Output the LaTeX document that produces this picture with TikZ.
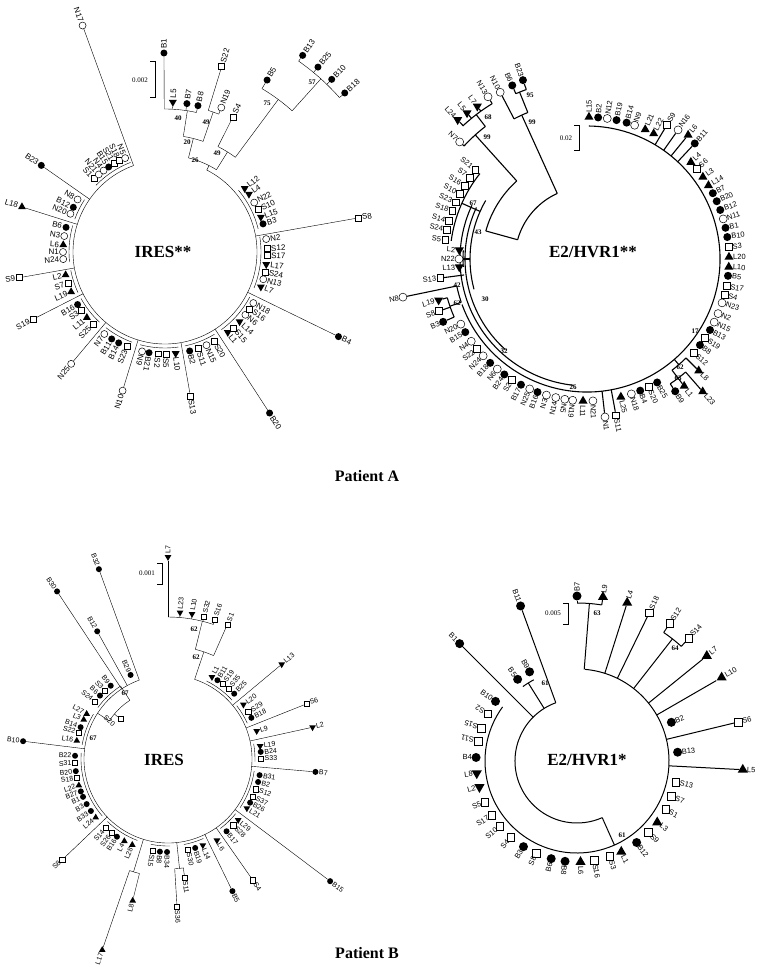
\documentclass[tikz,border=0pt]{standalone}
\usepackage{fontspec}
\setmainfont{Liberation Serif}
\setsansfont{Liberation Sans}
\usetikzlibrary{shapes.geometric}

% leaf symbol + rotated label, placed by angle and radius round the tree centre
\newcommand{\tip}[5]{%
  \node[#4] (#1) at (#2:#3) {};
  \ifdim #2pt<95pt
    \node[tag, anchor=west, rotate=#2] at ({#2}:{#3+\tagsep}) {#5};
  \else
    \node[tag, anchor=east, rotate=#2-180] at ({#2}:{#3+\tagsep}) {#5};
  \fi}
% same, label always turned outwards (upside down on the left)
\newcommand{\tipout}[5]{%
  \node[#4] (#1) at (#2:#3) {};
  \node[tag, anchor=west, rotate=#2] at ({#2}:{#3+\tagsep}) {#5};}
% leaf on its own branch, starting at radius #6
\newcommand{\longtip}[6]{%
  \coordinate (#1b) at (#2:#6);
  \tip{#1}{#2}{#3}{#4}{#5}
  \draw[branch] (#1b) -- (#1);}
\newcommand{\bow}[3]{\draw[branch] (#1:#3) arc[start angle=#1, end angle=#2, radius=#3];}
\newcommand{\spoke}[3]{\draw[branch] (#1:#2) -- (#1:#3);}

\tikzset{
  bdot/.style={circle, fill, inner sep=0pt, minimum size=\symsz},
  nring/.style={circle, draw, fill=white, inner sep=0pt, minimum size=\symsz, line width=0.5pt},
  sbox/.style={rectangle, draw, fill=white, inner sep=0pt, minimum size=0.85*\symsz, line width=0.5pt},
  ltri/.style={regular polygon, regular polygon sides=3, fill, inner sep=0pt, minimum size=1.3*\symsz},
  ltrid/.style={ltri, shape border rotate=180},
  tag/.style={font=\sffamily\fontsize{\tagpt}{\tagpt}\selectfont, inner sep=0pt},
  branch/.style={line width=\brw},
  boot/.style={font=\bfseries\fontsize{7}{7}\selectfont, inner sep=0pt},
  scalebar/.style={font=\fontsize{7}{7}\selectfont, inner sep=0pt},
  title/.style={font=\bfseries\fontsize{17}{17}\selectfont},
  patient/.style={font=\bfseries\fontsize{16}{16}\selectfont}
}

\begin{document}
\begin{tikzpicture}[x=1pt, y=-1pt]
\fill[white] (0,0) rectangle (760,969);
\useasboundingbox (0,0) rectangle (760,969);

%%% Patient A, IRES
\def\symsz{7pt}\def\tagpt{8}\def\tagsep{4}\def\brw{0.4pt}
\begin{scope}[shift={(165,252)}, y=1pt]
  \bow{110}{423}{92}
  \spoke{63}{92}{97} \bow{58}{76}{97}
  \spoke{76}{97}{117} \bow{71}{81}{117}
  \spoke{81}{117}{143} \bow{77.3}{90.3}{143}
  \spoke{71}{117}{148} \bow{68.7}{73}{148}
  \spoke{58}{97}{118} \bow{53.4}{63.3}{118}
  \spoke{53.4}{118}{190} \bow{48}{59.3}{190}
  \spoke{48}{190}{233} \bow{41.5}{55}{233}
  \longtip{aB1}{90.3}{199}{bdot}{B1}{143}
  \longtip{aL5}{87}{150}{ltrid}{L5}{143}
  \longtip{aB7}{81.6}{150}{bdot}{B7}{143}
  \longtip{aB8}{77.3}{150}{bdot}{B8}{143}
  \longtip{aS22}{73}{194}{sbox}{S22}{148}
  \longtip{aN19}{68.7}{155}{nring}{N19}{148}
  \longtip{aS4}{63.3}{151}{sbox}{S4}{118}
  \longtip{aB5}{59.3}{200}{bdot}{B5}{190}
  \longtip{aB13}{55}{240}{bdot}{B13}{233}
  \longtip{aB25}{50.4}{240}{bdot}{B25}{233}
  \longtip{aB10}{46}{240}{bdot}{B10}{233}
  \longtip{aB18}{41.5}{240}{bdot}{B18}{233}
  % long branches
  \longtip{aN17}{110}{241}{nring}{N17}{92}
  \longtip{aB23}{145}{151}{bdot}{B23}{92}
  \longtip{aL18}{162.5}{150}{ltri}{L18}{92}
  \longtip{aS9}{190}{148}{sbox}{S9}{92}
  \longtip{aS19}{207}{148}{sbox}{S19}{92}
  \longtip{aN25}{230}{146}{nring}{N25}{92}
  \longtip{aN10}{253}{145}{nring}{N10}{92}
  \longtip{aS13}{-80}{146}{sbox}{S13}{92}
  \longtip{aB20}{-57}{192}{bdot}{B20}{92}
  \longtip{aB4}{-26}{193}{bdot}{B4}{92}
  \longtip{aS8}{10}{196}{sbox}{S8}{92}
  % clusters
  \bow{111}{136}{96}
  \tip{aS1}{134}{102}{sbox}{S1}
  \tip{aN21}{130.5}{102}{nring}{N21}
  \tip{aN4}{127}{102}{nring}{N4}
  \tip{aB15}{123.5}{102}{bdot}{B15}
  \tip{aS21}{120}{102}{sbox}{S21}
  \tip{aS18}{116.5}{102}{sbox}{S18}
  \tip{aN5}{113}{102}{nring}{N5}
  \bow{147}{160}{96}
  \tip{aN8}{149}{102}{nring}{N8}
  \tip{aB12}{154}{102}{bdot}{B12}
  \tip{aN20}{158}{102}{nring}{N20}
  \bow{164}{186}{96}
  \tip{aB6}{166}{102}{bdot}{B6}
  \tip{aN3}{171}{102}{nring}{N3}
  \tip{aL6}{176}{102}{ltri}{L6}
  \tip{aN1}{180}{102}{nring}{N1}
  \tip{aN24}{184}{102}{nring}{N24}
  \bow{191}{205}{96}
  \tip{aL2}{193}{102}{ltri}{L2}
  \tip{aS7}{198}{102}{sbox}{S7}
  \tip{aL19}{203}{102}{ltri}{L19}
  \bow{209}{227}{96}
  \tip{aB16}{211}{102}{bdot}{B16}
  \tip{aS3}{215}{102}{sbox}{S3}
  \tip{aL11}{220}{102}{ltri}{L11}
  \tip{aS25}{225}{102}{sbox}{S25}
  \bow{232}{250}{96}
  \tip{aN7}{233.5}{102}{nring}{N7}
  \tip{aB11}{238.5}{102}{bdot}{B11}
  \tip{aB14}{243}{102}{bdot}{B14}
  \tip{aS23}{248}{102}{sbox}{S23}
  \bow{-105}{-82}{96}
  \tip{aN9}{-103}{102}{nring}{N9}
  \tip{aB21}{-99}{102}{bdot}{B21}
  \tip{aS2}{-94}{102}{sbox}{S2}
  \tip{aS5}{-89.5}{102}{sbox}{S5}
  \tip{aL10}{-84}{102}{ltrid}{L10}
  \bow{-78}{-59}{96}
  \tip{aB2}{-76}{102}{bdot}{B2}
  \tip{aS11}{-71}{102}{sbox}{S11}
  \tip{aN15}{-66}{102}{nring}{N15}
  \tip{aS20}{-61}{102}{sbox}{S20}
  \bow{-54}{-28}{96}
  \tip{aL1}{-52}{102}{ltrid}{L1}
  \tip{aS15}{-48}{102}{sbox}{S15}
  \tip{aL14}{-43}{102}{ltrid}{L14}
  \tip{aN6}{-38}{102}{nring}{N6}
  \tip{aS16}{-34}{102}{sbox}{S16}
  \tip{aN18}{-30}{102}{nring}{N18}
  \bow{-22}{9}{96}
  \tip{aN2}{7.3}{102}{nring}{N2}
  \tip{aS12}{2}{102}{sbox}{S12}
  \tip{aS17}{-2}{102}{sbox}{S17}
  \tip{aL17}{-7}{102}{ltrid}{L17}
  \tip{aS24}{-11.5}{102}{sbox}{S24}
  \tip{aN13}{-15.5}{102}{nring}{N13}
  \tip{aL7}{-20}{102}{ltrid}{L7}
  \bow{14}{40}{96}
  \tip{aL12}{38.6}{102}{ltrid}{L12}
  \tip{aL4}{34.6}{102}{ltrid}{L4}
  \tip{aN22}{29}{102}{nring}{N22}
  \tip{aS10}{24.5}{102}{sbox}{S10}
  \tip{aL15}{20}{102}{ltrid}{L15}
  \tip{aB3}{16}{102}{bdot}{B3}
\end{scope}
\node[boot] at (178,118) {40};
\node[boot] at (206,122) {49};
\node[boot] at (187,142) {20};
\node[boot] at (217,153) {49};
\node[boot] at (195,160) {26};
\node[boot] at (267,103) {75};
\node[boot] at (312,82) {57};
\draw[line width=0.4pt] (150,61) -- (155,61) -- (155,97) -- (150,97);
\node[scalebar] at (140,80) {0.002};
\node[title] at (163,252) {IRES**};

%%% Patient A, E2/HVR1
\def\symsz{8pt}\def\tagpt{7.5}\def\tagsep{4}\def\brw{1.1pt}
\begin{scope}[shift={(587,259)}, y=1pt]
  \bow{-160}{89.2}{133}
  \bow{-205}{-96}{127}
  \bow{-205}{-132}{122}
  \bow{150}{195}{117}
  \spoke{156}{117}{137} \bow{141.4}{172.4}{137}
  \spoke{180}{117}{124} \bow{176}{183.6}{124}
  \bow{114.4}{164.5}{72}
  \spoke{164.5}{72}{105} \bow{132}{164.5}{105}
  \spoke{132}{105}{167} \bow{127.5}{137.4}{167}
  \spoke{127.5}{167}{182} \bow{121.4}{133}{182}
  \spoke{114.4}{72}{158} \bow{112}{117.5}{158}
  \spoke{112}{158}{180} \bow{109.7}{113.3}{180}
  \bow{191.7}{199}{133}
  \spoke{199}{133}{145} \bow{195.5}{203.6}{145}
  \spoke{-49}{133}{140} \bow{-52.6}{-45}{140}
  \spoke{-52.6}{140}{150} \bow{-56.3}{-48.9}{150}
  % top left clades
  \longtip{bN7}{137.4}{173}{nring}{N7}{167}
  \longtip{bL24}{132.9}{190}{ltrid}{L24}{182}
  \longtip{bL5}{129.4}{189}{ltrid}{L5}{182}
  \longtip{bL7}{125.7}{188}{ltrid}{L7}{182}
  \longtip{bN13}{121.4}{190}{nring}{N13}{182}
  \longtip{bN10}{117.5}{188}{nring}{N10}{158}
  \longtip{bB6}{113.3}{189}{bdot}{B6}{180}
  \longtip{bB23}{109.7}{190}{bdot}{B23}{180}
  % top arc
  \tip{bL15}{89.2}{142}{ltri}{L15}
  \tip{bB2}{85.5}{142}{bdot}{B2}
  \tip{bN12}{81.8}{142}{nring}{N12}
  \tip{bB19}{78}{142}{bdot}{B19}
  \tip{bB14}{73.8}{142}{bdot}{B14}
  \tip{bN9}{70.4}{142}{nring}{N9}
  \tip{bL21}{65.8}{142}{ltri}{L21}
  \tip{bL22}{62}{142}{ltri}{L22}
  \longtip{bS9}{59.2}{156}{sbox}{S9}{133}
  \longtip{bN16}{54.8}{158}{nring}{N16}{133}
  \longtip{bL6}{50.8}{160}{ltri}{L6}{133}
  \longtip{bB11}{47}{158}{bdot}{B11}{133}
  % right side
  \tip{bL4}{43}{142}{ltri}{L4}
  \tip{bS6}{39.5}{142}{sbox}{S6}
  \tip{bL3}{35.3}{142}{ltri}{L3}
  \tip{bL14}{31.2}{142}{ltri}{L14}
  \tip{bB7}{27.6}{142}{bdot}{B7}
  \tip{bB20}{24}{142}{bdot}{B20}
  \tip{bB12}{20.2}{142}{bdot}{B12}
  \tip{bN11}{16.4}{142}{nring}{N11}
  \tip{bB1}{12.7}{142}{bdot}{B1}
  \tip{bB10}{8.9}{142}{bdot}{B10}
  \tip{bS3}{4.9}{142}{sbox}{S3}
  \tip{bL20}{0.8}{142}{ltri}{L20}
  \tip{bL10}{-3.2}{142}{ltri}{L10}
  \tip{bB5}{-6.8}{142}{bdot}{B5}
  \tip{bS17}{-10.9}{142}{sbox}{S17}
  \tip{bS4}{-14.6}{142}{sbox}{S4}
  \tip{bN23}{-18}{142}{nring}{N23}
  \tip{bN2}{-22.6}{142}{nring}{N2}
  \tip{bN15}{-26.4}{142}{nring}{N15}
  \tip{bB13}{-30}{142}{bdot}{B13}
  \tip{bS19}{-33.8}{142}{sbox}{S19}
  \tip{bB8}{-37.3}{142}{bdot}{B8}
  \tip{bS12}{-41.3}{142}{sbox}{S12}
  \longtip{bL8}{-45}{158}{ltri}{L8}{140}
  \longtip{bL23}{-48.9}{176}{ltri}{L23}{150}
  \longtip{bL1}{-52.6}{160}{ltri}{L1}{150}
  \longtip{bB9}{-56.3}{159}{bdot}{B9}{150}
  % bottom
  \tip{bB25}{-60.4}{142}{bdot}{B25}
  \tip{bS20}{-64.3}{142}{sbox}{S20}
  \tip{bB4}{-68}{142}{bdot}{B4}
  \tip{bN18}{-71.8}{142}{nring}{N18}
  \tip{bL25}{-76.2}{142}{ltri}{L25}
  \longtip{bS11}{-79.5}{159}{sbox}{S11}{133}
  \longtip{bN1}{-83.5}{159}{nring}{N1}{133}
  \tip{bN21}{-87.6}{142}{nring}{N21}
  \tip{bL11}{-91.6}{142}{ltri}{L11}
  \tip{bN19}{-95.8}{142}{nring}{N19}
  \tip{bN5}{-99}{142}{nring}{N5}
  \tip{bN14}{257.3}{142}{nring}{N14}
  \tip{bN3}{253.4}{142}{nring}{N3}
  \tip{bB16}{249.6}{142}{bdot}{B16}
  \tip{bN25}{246.2}{142}{nring}{N25}
  \tip{bB17}{242.3}{142}{bdot}{B17}
  \tip{bS2}{238.1}{142}{sbox}{S2}
  \tip{bB24}{234.4}{142}{bdot}{B24}
  \tip{bN6}{230.8}{142}{nring}{N6}
  \tip{bB18}{227}{142}{bdot}{B18}
  \tip{bN24}{223}{142}{nring}{N24}
  \tip{bS22}{219.2}{142}{sbox}{S22}
  \tip{bN4}{215.4}{142}{nring}{N4}
  \tip{bB15}{211}{142}{bdot}{B15}
  \tip{bN20}{207.3}{142}{nring}{N20}
  % left side
  \longtip{bB3}{203.6}{157}{bdot}{B3}{145}
  \longtip{bS8}{199.4}{157}{sbox}{S8}{145}
  \longtip{bL19}{195.5}{154}{ltrid}{L19}{145}
  \longtip{bN8}{191.7}{188}{nring}{N8}{133}
  \longtip{bS13}{187.4}{148}{sbox}{S13}{124}
  \tip{bL13}{183.6}{128}{ltrid}{L13}
  \tip{bN22}{180}{128}{nring}{N22}
  \tip{bL2}{176}{128}{ltrid}{L2}
  \tip{bS5}{172.4}{143}{sbox}{S5}
  \tip{bS24}{168.2}{143}{sbox}{S24}
  \tip{bS14}{164.6}{143}{sbox}{S14}
  \tip{bS18}{160.4}{143}{sbox}{S18}
  \tip{bS23}{156.6}{143}{sbox}{S23}
  \tip{bS10}{152.8}{143}{sbox}{S10}
  \tip{bS16}{149}{143}{sbox}{S16}
  \tip{bS7}{145.2}{143}{sbox}{S7}
  \tip{bS21}{141.4}{143}{sbox}{S21}
\end{scope}
\node[boot] at (487,137) {99};
\node[boot] at (488,117) {68};
\node[boot] at (532,122) {99};
\node[boot] at (530,95) {95};
\node[boot] at (473,203) {67};
\node[boot] at (478,232) {43};
\node[boot] at (485,299) {30};
\node[boot] at (457,285) {42};
\node[boot] at (457,303) {62};
\node[boot] at (504,351) {32};
\node[boot] at (573,387) {26};
\node[boot] at (695,331) {17};
\node[boot] at (680,367) {62};
\node[boot] at (678,378) {63};
\draw[line width=0.6pt] (574,125) -- (579,125) -- (579,150) -- (574,150);
\node[scalebar] at (566,138) {0.02};
\node[title] at (593,252) {E2/HVR1**};

\node[patient] at (367,476) {Patient A};

%%% Patient B, IRES
\def\symsz{6pt}\def\tagpt{7}\def\tagsep{3.5}\def\brw{0.4pt}
\begin{scope}[shift={(168,759)}, y=1pt]
  \bow{110}{431.5}{84}
  \spoke{71.5}{84}{113} \bow{66.2}{76}{113}
  \spoke{76}{113}{142} \bow{71.4}{90}{142}
  \longtip{cL7}{90}{202}{ltrid}{L7}{142}
  \longtip{cL23}{85.3}{147}{ltrid}{L23}{142}
  \longtip{cL10}{80.6}{147}{ltrid}{L10}{142}
  \longtip{cS32}{75.8}{147}{sbox}{S32}{142}
  \longtip{cS16}{71.4}{147}{sbox}{S16}{142}
  \longtip{cS1}{66.2}{147}{sbox}{S1}{113}
  \longtip{cB32}{110}{202}{bdot}{B32}{84}
  \longtip{cB30}{123.5}{201}{bdot}{B30}{84}
  \longtip{cB12}{119}{146}{bdot}{B12}{84}
  \tip{cB29}{114}{92}{bdot}{B29}
  \bow{42.6}{63.8}{87}
  \tip{cL1}{61.8}{93}{ltrid}{L1}
  \tip{cB11}{57.9}{93}{bdot}{B11}
  \tip{cS19}{53.7}{93}{sbox}{S19}
  \tip{cS35}{49.3}{93}{sbox}{S35}
  \tip{cB25}{44.6}{93}{bdot}{B25}
  \longtip{cL13}{39.8}{148}{ltrid}{L13}{84}
  \bow{24.3}{37.8}{87}
  \tip{cL20}{35.8}{93}{ltrid}{L20}
  \tip{cS29}{30.4}{93}{sbox}{S29}
  \tip{cB18}{26.3}{93}{bdot}{B18}
  \longtip{cS6}{21.7}{149}{sbox}{S6}{84}
  \tip{cL9}{17.5}{93}{ltrid}{L9}
  \longtip{cL2}{12.4}{148}{ltrid}{L2}{84}
  \bow{-1.7}{10}{87}
  \tip{cL19}{8}{93}{ltrid}{L19}
  \tip{cB24}{4.4}{93}{bdot}{B24}
  \tip{cS33}{0.3}{93}{sbox}{S33}
  \longtip{cB7}{-5}{148}{bdot}{B7}{84}
  \bow{-34}{-8}{87}
  \tip{cB31}{-10}{93}{bdot}{B31}
  \tip{cB2}{-14.3}{93}{bdot}{B2}
  \tip{cS12}{-19}{93}{sbox}{S12}
  \tip{cS37}{-24}{93}{sbox}{S37}
  \tip{cB26}{-28}{93}{bdot}{B26}
  \tip{cL21}{-32}{93}{ltrid}{L21}
  \longtip{cB15}{-37}{203}{bdot}{B15}{84}
  \bow{-53}{-39}{87}
  \tip{cL29}{-41}{93}{ltrid}{L29}
  \tip{cS28}{-45.4}{93}{sbox}{S28}
  \tip{cB17}{-51}{93}{bdot}{B17}
  \longtip{cS4}{-55}{148}{sbox}{S4}{84}
  \tip{cL6}{-59}{95}{ltrid}{L6}
  \longtip{cB5}{-64}{147}{bdot}{B5}{84}
  \bow{-79.5}{-66}{87}
  \tip{cL14}{-68}{93}{ltrid}{L14}
  \tip{cB19}{-73}{93}{bdot}{B19}
  \tip{cS30}{-77.5}{93}{sbox}{S30}
  \spoke{-84}{84}{110} \bow{-86.5}{-82}{110}
  \longtip{cS11}{-82}{120}{sbox}{S11}{110}
  \longtip{cS36}{-86.5}{148}{sbox}{S36}{110}
  \bow{-101.4}{-88.6}{87}
  \tip{cS15}{-99.4}{93}{sbox}{S15}
  \tip{cB8}{-95}{93}{bdot}{B8}
  \tip{cB34}{-90.6}{93}{bdot}{B34}
  \spoke{253}{84}{118} \bow{251}{256}{118}
  \longtip{cL8}{256}{146}{ltri}{L8}{118}
  \longtip{cL17}{251}{202}{ltri}{L17}{118}
  \bow{226}{249.4}{87}
  \tip{cS14}{228}{93}{sbox}{S14}
  \tip{cS26}{232.6}{93}{sbox}{S26}
  \tip{cB16}{236.7}{93}{bdot}{B16}
  \tip{cL4}{242}{93}{ltri}{L4}
  \tip{cL28}{247.4}{93}{ltri}{L28}
  \longtip{cS8}{223.6}{146}{sbox}{S8}{84}
  \bow{176}{221}{87}
  \tip{cB22}{178}{93}{bdot}{B22}
  \tip{cS31}{182.5}{93}{sbox}{S31}
  \tip{cB20}{187.5}{93}{bdot}{B20}
  \tip{cS18}{191.4}{93}{sbox}{S18}
  \tip{cL22}{196.5}{93}{ltri}{L22}
  \tip{cB27}{200.4}{93}{bdot}{B27}
  \tip{cB1}{204}{93}{bdot}{B1}
  \tip{cB3}{209}{93}{bdot}{B3}
  \tip{cB33}{214}{93}{bdot}{B33}
  \tip{cL24}{219}{93}{ltri}{L24}
  \longtip{cB10}{173}{146}{bdot}{B10}{84}
  \bow{149}{170.7}{87}
  \tip{cL27}{151}{93}{ltri}{L27}
  \tip{cL3}{155}{93}{ltri}{L3}
  \tip{cB14}{160}{93}{bdot}{B14}
  \tip{cS22}{163.5}{93}{sbox}{S22}
  \tip{cL16}{168.7}{93}{ltri}{L16}
  \bow{123}{143.7}{87}
  \tip{cB9}{128}{93}{bdot}{B9}
  \tip{cS3}{132.8}{93}{sbox}{S3}
  \tip{cB6}{137}{93}{bdot}{B6}
  \tip{cS24}{141.7}{93}{sbox}{S24}
  % inner 67 node
  \bow{123}{147}{70}
  \spoke{147}{70}{84} \spoke{123}{70}{87}
  \coordinate (cS20b) at (140:70);
  \node[sbox] (cS20) at (140:62) {};
  \node[tag, anchor=south east, rotate=-40] at (150:64) {S20};
  \draw[branch] (cS20b) -- (cS20);
\end{scope}
\node[boot] at (194,629) {62};
\node[boot] at (196,657) {62};
\node[boot] at (125,693) {67};
\node[boot] at (93,738) {67};
\draw[line width=0.4pt] (157,563) -- (162,563) -- (162,584) -- (157,584);
\node[scalebar] at (147,573) {0.001};
\node[title] at (164,760) {IRES};

%%% Patient B, E2/HVR1
\def\symsz{9pt}\def\tagpt{7.5}\def\tagsep{4}\def\brw{1pt}
\begin{scope}[shift={(577,761)}, y=1pt]
  \bow{144}{445}{92}
  \bow{110}{294}{62}
  \spoke{294}{62}{92}
  \spoke{122}{62}{92} \bow{118}{126}{92}
  \spoke{85.5}{92}{158} \bow{81}{90}{158}
  \spoke{52}{92}{155} \bow{47.7}{56}{155}
  \longtip{dB7}{90}{165}{bdot}{B7}{158}
  \longtip{dL9}{81}{166}{ltri}{L9}{158}
  \longtip{dL4}{72.4}{166}{ltri}{L4}{92}
  \longtip{dS18}{64}{165}{sbox}{S18}{92}
  \longtip{dS12}{56}{166}{sbox}{S12}{155}
  \longtip{dS14}{47.7}{166}{sbox}{S14}{155}
  \longtip{dL7}{39}{167}{ltri}{L7}{92}
  \longtip{dL10}{30}{167}{ltri}{L10}{92}
  \longtip{dS6}{13.6}{166}{sbox}{S6}{92}
  \longtip{dL5}{-3}{166}{ltri}{L5}{92}
  \tip{dB2}{22.3}{102}{bdot}{B2}
  \tip{dB13}{5}{101}{bdot}{B13}
  \tip{dS13}{-12}{101}{sbox}{S13}
  \tip{dS7}{-20.6}{101}{sbox}{S7}
  \tip{dS1}{-28.6}{101}{sbox}{S1}
  \tip{dL3}{-37.4}{101}{ltri}{L3}
  \tip{dS9}{-45}{101}{sbox}{S9}
  \tip{dB12}{-53.8}{101}{bdot}{B12}
  \tip{dL1}{-64}{101}{ltri}{L1}
  \tip{dS3}{-71}{101}{sbox}{S3}
  \tip{dS16}{-80}{101}{sbox}{S16}
  \tip{dL6}{-88}{101}{ltri}{L6}
  \tip{dB8}{-96.8}{101}{bdot}{B8}
  \tip{dB6}{255.2}{101}{bdot}{B6}
  \tip{dS8}{246}{101}{sbox}{S8}
  \tip{dB3}{238}{101}{bdot}{B3}
  \tip{dS4}{229}{101}{sbox}{S4}
  \tip{dS10}{220.2}{101}{sbox}{S10}
  \tip{dS17}{212.4}{101}{sbox}{S17}
  \tip{dS5}{204}{101}{sbox}{S5}
  \tip{dL2}{195}{101}{ltrid}{L2}
  \tip{dL8}{187}{101}{ltrid}{L8}
  \tip{dB4}{178}{101}{bdot}{B4}
  \tipout{dS11}{168.6}{101}{sbox}{S11}
  \tipout{dS15}{161}{101}{sbox}{S15}
  \tipout{dS2}{152}{101}{sbox}{S2}
  \tip{dB10}{143.8}{101}{bdot}{B10}
  \tip{dB5}{126}{101}{bdot}{B5}
  \tip{dB9}{118}{101}{bdot}{B9}
  \longtip{dB1}{135}{166}{bdot}{B1}{62}
  \longtip{dB11}{110}{165}{bdot}{B11}{62}
\end{scope}
\node[boot] at (597,613) {63};
\node[boot] at (675,648) {64};
\node[boot] at (545,683) {61};
\node[boot] at (622,835) {61};
\draw[line width=0.6pt] (563,603) -- (568,603) -- (568,624) -- (563,624);
\node[scalebar] at (553,613) {0.005};
\node[title] at (587,760) {E2/HVR1*};

\node[patient] at (367,953) {Patient B};
\end{tikzpicture}
\end{document}
